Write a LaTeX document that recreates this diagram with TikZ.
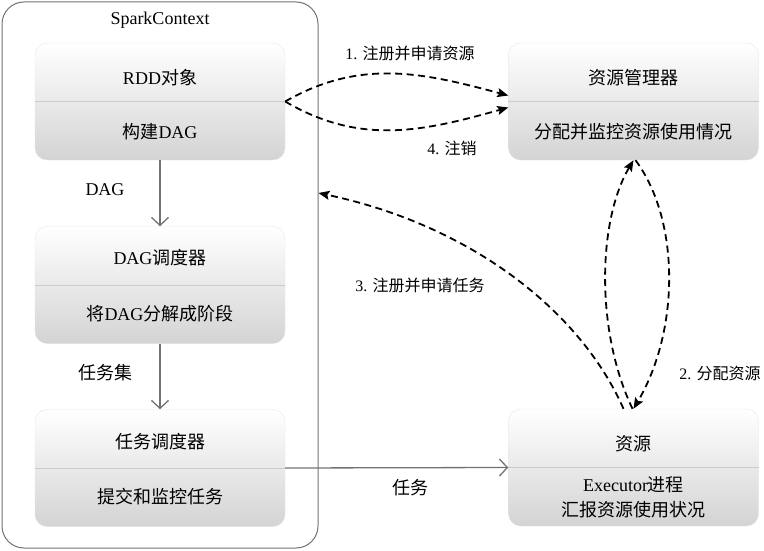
\documentclass[tikz,border=0pt]{standalone}
\usepackage{fontspec}
\setmainfont{Liberation Serif}
\newfontfamily\zh{Noto Sans CJK SC}
\usepackage{tikz}
\usetikzlibrary{
  arrows.meta,
  positioning}

\begin{document}
\begin{tikzpicture}[
  x=1pt, y=-1pt,
  stage/.style={rounded corners=12pt, draw=black!10, top color=white, bottom color=black!17,
    minimum width=250pt, minimum height=117pt, inner sep=0pt},
  sc/.style={draw=black!55, line width=1pt, rounded corners=22pt,
    minimum width=316pt, minimum height=546pt},
  txt/.style={font=\fontsize{18}{25}\selectfont, inner sep=0pt, align=center},
  lbl/.style={font=\fontsize{16}{20}\selectfont, inner sep=0pt},
  flow/.style={draw=black!55, line width=1.3pt,
    -{Straight Barb[length=8pt,width=17pt,line width=1.3pt]}},
  req/.style={line width=1.8pt, dash pattern=on 7pt off 4.5pt,
    -{Stealth[length=11pt,width=9pt,inset=2pt]}},
]
\useasboundingbox (0,0) rectangle (764,551);
% driver side
\node[sc] (spark) at (160,275) {};
\node[txt] (sctitle) at (160,20) {SparkContext};
\node[stage] (rdd) at (160,101.5) {};
\node[stage] (dags) at (160,285) {};
\node[stage] (tasks) at (160,468) {};
% cluster side
\node[stage] (rm) at (633.5,101.5) {};
\node[stage] (res) at (633.5,467.5) {};
\foreach \b in {rdd,dags,tasks,rm,res}
  \draw[black!20] (\b.west) -- (\b.east);
\node[txt] (rddhead) at ([yshift=24pt]rdd.center) {RDD{\zh 对象}};
\node[txt] (rddbody) at ([yshift=-30pt]rdd.center) {{\zh 构建}DAG};
\node[txt] (dagshead) at ([yshift=27pt]dags.center) {DAG{\zh 调度器}};
\node[txt] (dagsbody) at ([yshift=-29pt]dags.center) {{\zh 将}DAG{\zh 分解成阶段}};
\node[txt] (taskshead) at ([yshift=26pt]tasks.center) {{\zh 任务调度器}};
\node[txt] (tasksbody) at ([yshift=-29pt]tasks.center) {{\zh 提交和监控任务}};
\node[txt] (rmhead) at ([yshift=24pt]rm.center) {{\zh 资源管理器}};
\node[txt] (rmbody) at ([yshift=-30pt]rm.center) {{\zh 分配并监控资源使用情况}};
\node[txt] (reshead) at ([yshift=24pt]res.center) {{\zh 资源}};
\node[txt] (resbody) at ([yshift=-30pt]res.center) {Executor{\zh 进程}\\{\zh 汇报资源使用状况}};
% labels
\node[txt] (dagl) at (105,190) {DAG};
\node[txt] (setl) at (105,373) {{\zh 任务集}};
\node[txt] (taskl) at (410,488) {{\zh 任务}};
\node[lbl] (l1) at (410,53) {1. {\zh 注册并申请资源}};
\node[lbl] (l4) at (452,148) {4. {\zh 注销}};
\node[lbl] (l3) at (420,285) {3. {\zh 注册并申请任务}};
\node[lbl] (l2) at (720,373) {2. {\zh 分配资源}};
% connectors
\draw[flow] (rdd) -- (dags);
\draw[flow] (dags) -- (tasks);
\draw[flow] (tasks.east) -- (res.west);
\coordinate (sc3) at (spark.east |- 0,193);
\draw[req] (rdd.east) .. controls (361,58) and (424,73) .. ([yshift=6pt]rm.west);
\draw[req] (rdd.east) .. controls (361,146) and (424,131) .. ([yshift=-6pt]rm.west);
\draw[req] ([xshift=-1pt]res.north) .. controls (595,330) and (598,220) .. (rm.south);
\draw[req] ([xshift=2pt]rm.south) .. controls (680,220) and (680,330) .. (res.north);
\draw[req] ([xshift=-10pt]res.north) .. controls (580,310) and (470,225) .. (sc3);
\end{tikzpicture}
\end{document}
